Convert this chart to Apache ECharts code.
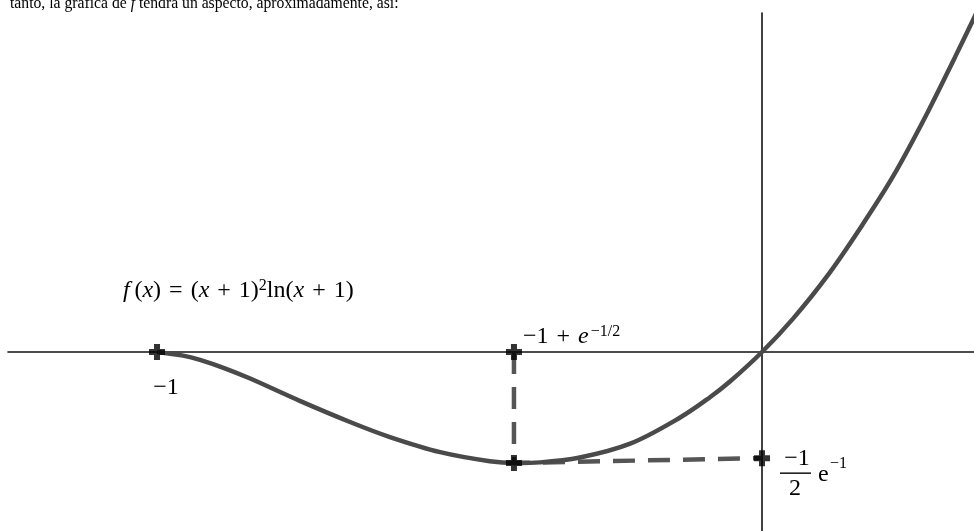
<!DOCTYPE html>
<html>
<head>
<meta charset="utf-8">
<script src="https://cdn.jsdelivr.net/npm/echarts@6/dist/echarts.min.js"></script>
<style>
  html, body { margin: 0; padding: 0; background: #fff; }
  #main { width: 974px; height: 531px; }
</style>
</head>
<body>
<div id="main"></div>
<script>
// curva: f(x) = (x+1)^2 ln(x+1)
const curveX = [-1.000, -0.957, -0.929, -0.888, -0.846, -0.764, -0.681, -0.615, -0.532, -0.450, -0.408, -0.367, -0.301,
  -0.218, -0.136, -0.086, -0.053, 0, 0.051, 0.107, 0.162, 0.217, 0.273, 0.319, 0.347, 0.369];
const curveY = [0, -0.006, -0.013, -0.027, -0.044, -0.081, -0.116, -0.141, -0.166, -0.181, -0.184, -0.183, -0.175,
  -0.152, -0.109, -0.075, -0.049, 0, 0.055, 0.125, 0.205, 0.292, 0.396, 0.489, 0.547, 0.592];
// puntos marcados con cruz: raíz, -1+e^(-1/2) en el eje, mínimo, -e^(-1)/2 en el eje y
const markX = [-1, -0.41, -0.41, 0];
const markY = [0, 0, -0.184, -0.176];
// líneas discontinuas: bajada desde el eje hasta el mínimo y de ahí al eje y
const guideX = [-0.41, -0.41, 0];
const guideY = [0, -0.184, -0.176];

const serif = '"Liberation Serif", "DejaVu Serif", serif';
const plus = 'path://M5,0H11V5H16V11H11V16H5V11H0V5H5Z';
const sp = '\u2004'; // espacio de 1/3 em, como el de los operadores en LaTeX

const chart = echarts.init(document.getElementById('main'));

const option = {
  animation: false,
  backgroundColor: '#fff',
  grid: { left: 8, right: 0, top: 13, bottom: 0 },
  xAxis: {
    type: 'value',
    min: -1.2463,
    max: 0.3504,
    axisLine: { show: true, onZero: true, lineStyle: { color: '#111', width: 1.6 } },
    axisTick: { show: false },
    axisLabel: { show: false },
    splitLine: { show: false }
  },
  yAxis: {
    type: 'value',
    min: -0.2968,
    max: 0.5622,
    axisLine: { show: true, onZero: true, lineStyle: { color: '#111', width: 1.6 } },
    axisTick: { show: false },
    axisLabel: { show: false },
    splitLine: { show: false }
  },
  series: [
    {
      type: 'line',
      data: guideX.map((x, i) => [x, guideY[i]]),
      showSymbol: false,
      lineStyle: { color: '#555', width: 4.5, type: [22, 13] },
      z: 2
    },
    {
      type: 'line',
      data: curveX.map((x, i) => [x, curveY[i]]),
      smooth: 0.35,
      showSymbol: false,
      clip: false,
      lineStyle: { color: '#4a4a4a', width: 4.5 },
      z: 3
    },
    {
      type: 'scatter',
      data: markX.map((x, i) => [x, markY[i]]),
      symbol: plus,
      symbolSize: 16,
      itemStyle: { color: '#000' },
      z: 5
    }
  ]
};
chart.setOption(option);

// etiquetas colocadas junto a los puntos marcados
const p = markX.map((x, i) => chart.convertToPixel({ gridIndex: 0 }, [x, markY[i]]));

const richBase = {
  r: { fontFamily: serif, fontSize: 24, fill: '#000', verticalAlign: 'bottom', lineHeight: 25 },
  i: { fontFamily: serif, fontSize: 24, fontStyle: 'italic', fill: '#000', verticalAlign: 'bottom', lineHeight: 25 },
  s: { fontFamily: serif, fontSize: 16, fill: '#000', verticalAlign: 'top', lineHeight: 16 }
};

chart.setOption({
  graphic: [
    {
      type: 'text',
      left: 10,
      top: -4,
      style: {
        text: '{r|tanto, la gráfica de }{i|f}{r| tendrá un aspecto, aproximadamente, así:}',
        rich: {
          r: { fontFamily: serif, fontSize: 15.7, fill: '#000' },
          i: { fontFamily: serif, fontSize: 15.7, fontStyle: 'italic', fill: '#000' }
        }
      }
    },
    {
      type: 'text',
      left: 123,
      top: 278,
      style: {
        text: '{i|f\u2009}{r|(}{i|x}{r|)' + sp + '=' + sp + '(}{i|x}{r|' + sp + '+' + sp + '1)}{s|2}{r|ln(}{i|x}{r|' + sp + '+' + sp + '1)}',
        rich: richBase
      }
    },
    {
      type: 'text',
      x: p[0][0] + 9,
      y: p[0][1] + 36,
      style: {
        text: '−1', font: '24px ' + serif, fill: '#000',
        align: 'center', verticalAlign: 'middle'
      }
    },
    {
      type: 'text',
      x: p[1][0] + 9,
      y: p[1][1] - 28,
      style: {
        text: '{r|−1' + sp + '+' + sp + '}{i|e\u200a}{s|−1/2}',
        rich: richBase
      }
    },
    {
      type: 'group',
      x: p[3][0],
      y: p[3][1],
      children: [
        {
          type: 'text', x: 35, y: 1,
          style: { text: '−1', font: '24px ' + serif, fill: '#000', align: 'center', verticalAlign: 'middle' }
        },
        {
          type: 'line',
          shape: { x1: 18, y1: 15, x2: 49, y2: 15 },
          style: { stroke: '#000', lineWidth: 1.4 }
        },
        {
          type: 'text', x: 33, y: 31,
          style: { text: '2', font: '24px ' + serif, fill: '#000', align: 'center', verticalAlign: 'middle' }
        },
        {
          type: 'text', x: 56, y: 17,
          style: { text: 'e', font: '24px ' + serif, fill: '#000', align: 'left', verticalAlign: 'middle' }
        },
        {
          type: 'text', x: 68, y: 6,
          style: { text: '−1', font: '16px ' + serif, fill: '#000', align: 'left', verticalAlign: 'middle' }
        }
      ]
    }
  ]
});
</script>
</body>
</html>
